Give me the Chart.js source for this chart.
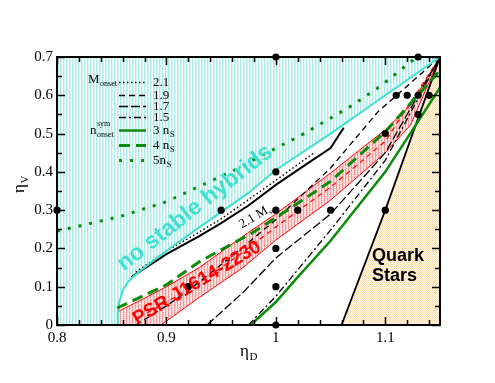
<!DOCTYPE html>
<html><head><meta charset="utf-8">
<script src="https://cdn.jsdelivr.net/npm/chart.js@4/dist/chart.umd.min.js"></script>
<style>html,body{margin:0;padding:0;background:#fff}canvas{display:block}</style>
</head><body>
<canvas id="c" width="495" height="383"></canvas>
<script>
// ---- axis ticks ----
const xTicks = [0.8, 0.9, 1.0, 1.1];
const yTicks = [0, 0.1, 0.2, 0.3, 0.4, 0.5, 0.6, 0.7];

// ---- boundaries / curves (eta_D, eta_V) ----
const cyanX = [0.855,0.8555,0.857,0.86,0.865,0.872,0.88,0.89,0.91,0.93,0.95,0.975,1.0,1.05,1.1,1.15];
const cyanY = [0,0.03,0.06,0.09,0.113,0.132,0.15,0.172,0.215,0.255,0.295,0.345,0.405,0.5,0.6,0.7];

const mmaxX = [0.868,0.88,0.9,0.93,0.95,0.975,1.0,1.031,1.05,1.062];
const mmaxY = [0.125,0.148,0.185,0.232,0.266,0.312,0.366,0.426,0.462,0.515];

const m21X = [0.872,0.9,0.93,0.95,1.0,1.035];
const m21Y = [0.138,0.193,0.243,0.277,0.378,0.45];

const m19X = [0.872,0.9,0.92,0.96,1.0,1.05,1.093,1.146];
const m19Y = [0,0.05,0.09,0.18,0.275,0.41,0.556,0.69];

const m17X = [0.937,0.97,1.0,1.05,1.1,1.15];
const m17Y = [0,0.085,0.175,0.29,0.45,0.7];

const m15X = [0.975,1.0,1.05,1.1,1.15];
const m15Y = [0,0.075,0.248,0.43,0.7];

const n3X = [0.977,1.0,1.02,1.05,1.1,1.15];
const n3Y = [0,0.06,0.125,0.22,0.4,0.62];

const n4X = [0.855,0.9,0.93,0.978,1.0,1.05,1.1,1.15];
const n4Y = [0.044,0.105,0.165,0.24,0.28,0.375,0.505,0.665];

const n5X = [0.8,0.857,0.9,0.936,0.959,0.988,1.026,1.07,1.097,1.123,1.13];
const n5Y = [0.245,0.283,0.322,0.37,0.40,0.444,0.5,0.574,0.627,0.687,0.7];

const psrUpX = [0.855,0.88,0.9,0.93,0.974,1.0,1.05,1.1,1.123,1.15];
const psrUpY = [0.034,0.07,0.1,0.15,0.24,0.29,0.397,0.51,0.574,0.7];
const psrLoX = [0.895,0.93,0.97,1.0,1.05,1.1,1.123,1.15];
const psrLoY = [0,0.072,0.15,0.222,0.326,0.45,0.522,0.7];
const psrMidX = [0.875,0.9,0.93,0.97,1.0,1.05,1.1,1.15];
const psrMidY = [0.02,0.06,0.11,0.19,0.256,0.36,0.48,0.7];

const quarkX = [1.06,1.1,1.15];
const quarkY = [0,0.3,0.7];

const dotX = [0.8,0.95,1.0,1.13,1.0,1.0,1.02,1.05,1.0,1.0,1.0,0.92,1.1,1.1,1.11,1.12,1.13,1.14,1.13];
const dotY = [0.3,0.3,0.7,0.7,0.4,0.3,0.3,0.3,0.2,0.1,0,0.1,0.3,0.5,0.6,0.6,0.6,0.6,0.55];

const X_MIN = 0.8, X_MAX = 1.15, Y_MIN = 0, Y_MAX = 0.7;

function pts(xs, ys){ return xs.map((x,i)=>({x:x, y:ys[i]})); }

// ---- patterns ----
function makePattern(w, h, drawFn){
  const c = document.createElement('canvas'); c.width = w; c.height = h;
  const g = c.getContext('2d'); drawFn(g);
  return document.getElementById('c').getContext('2d').createPattern(c, 'repeat');
}
const cyanPat = makePattern(3, 2, g => {
  g.fillStyle = '#ffffff'; g.fillRect(0,0,3,2);
  g.fillStyle = '#a9ecea'; g.fillRect(0,0,1,2);
  g.fillStyle = '#e0f8f7'; g.fillRect(1,0,1,2);
  g.fillStyle = '#c8f2f0'; g.fillRect(1,1,1,1);
});
const redPat = makePattern(3, 2, g => {
  g.fillStyle = '#ffe4e4'; g.fillRect(0,0,3,2);
  g.fillStyle = '#f79a9a'; g.fillRect(0,0,1,2);
  g.fillStyle = '#fbc4c4'; g.fillRect(1,0,1,1);
});
const quarkPat = makePattern(2, 2, g => {
  g.fillStyle = '#fff4e2'; g.fillRect(0,0,2,2);
  g.fillStyle = '#f7dba8'; g.fillRect(0,0,1,1);
  g.fillStyle = '#fbe8c8'; g.fillRect(1,1,1,1);
});

// polygons
const cyanPoly = pts([X_MIN].concat(cyanX, [X_MIN, X_MIN]), [Y_MIN].concat(cyanY, [Y_MAX, Y_MIN]));
const quarkPoly = pts(quarkX.concat([X_MAX, quarkX[0]]), quarkY.concat([Y_MIN, quarkY[0]]));
const psrPoly = pts(psrUpX.concat(psrLoX.slice().reverse(), [psrUpX[0], psrUpX[0]]),
                    psrUpY.concat(psrLoY.slice().reverse(), [Y_MIN, psrUpY[0]]));

function poly(data, pat){
  return {data, fill:'shape', backgroundColor: pat, borderWidth:0, borderColor:'rgba(0,0,0,0)',
          pointRadius:0, tension:0, order:20};
}
function line(data, color, width, dash, ord){
  return {data, fill:false, borderColor:color, borderWidth:width, borderDash:dash||[],
          pointRadius:0, tension:0, order:ord||10, borderCapStyle:'butt'};
}

const DASH = {
  m21:[1.5,2.5], m19:[6,4], m17:[9,3], m15:[7,3,2,3],
  n4:[11,6], n5:[3,8]
};

const datasets = [
  poly(cyanPoly, cyanPat),
  poly(quarkPoly, quarkPat),
  poly(psrPoly, redPat),
  line(pts(psrUpX, psrUpY), '#ff0000', 1, null, 12),
  line(pts(psrLoX, psrLoY), '#ff0000', 1, null, 12),
  line(pts(psrMidX, psrMidY), '#ff0000', 1.2, [5,4], 12),
  line(pts(cyanX, cyanY), '#40e0d0', 2, null, 10),
  line(pts(mmaxX, mmaxY), '#000000', 2, null, 10),
  line(pts(m21X, m21Y), '#000000', 1.5, DASH.m21, 10),
  line(pts(m19X, m19Y), '#000000', 1.3, DASH.m19, 10),
  line(pts(m17X, m17Y), '#000000', 1.3, DASH.m17, 10),
  line(pts(m15X, m15Y), '#000000', 1.3, DASH.m15, 10),
  line(pts(quarkX, quarkY), '#000000', 1.8, null, 10),
  line(pts(n3X, n3Y), '#0a8c0a', 2.5, null, 9),
  line(pts(n4X, n4Y), '#0a8c0a', 3, DASH.n4, 9),
  line(pts(n5X, n5Y), '#0a8c0a', 3, DASH.n5, 9),
  {data: pts(dotX, dotY), showLine:false, pointRadius:3.6, pointBackgroundColor:'#000',
   pointBorderWidth:0, borderColor:'#000', order:0, clip:false}
];

function sub(ctx, base, subTxt, x, y, fb, fs, supTxt){
  ctx.font = fb; ctx.fillText(base, x, y);
  const w = ctx.measureText(base).width;
  ctx.font = fs; ctx.fillText(subTxt, x + w + 0.5, y + 4);
  if (supTxt) ctx.fillText(supTxt, x + w + 0.5, y - 7);
}

const deco = {
  id:'deco',
  afterDraw(chart){
    const ctx = chart.ctx, a = chart.chartArea, xs = chart.scales.x, ys = chart.scales.y;
    ctx.save();
    ctx.strokeStyle = '#000'; ctx.lineWidth = 1.5;
    for (let i = 0; i <= 17; i++){
      const v = X_MIN + i*0.02; const px = Math.round(xs.getPixelForValue(v)) + 0.5;
      const major = Math.abs(v*10 - Math.round(v*10)) < 1e-6;
      const L = major ? 8 : 5;
      ctx.beginPath(); ctx.moveTo(px, a.bottom); ctx.lineTo(px, a.bottom - L);
      ctx.moveTo(px, a.top); ctx.lineTo(px, a.top + L); ctx.stroke();
    }
    for (let i = 0; i <= 14; i++){
      const v = Y_MIN + i*0.05; const py = Math.round(ys.getPixelForValue(v)) + 0.5;
      const L = (i % 2 === 0) ? 8 : 5;
      ctx.beginPath(); ctx.moveTo(a.left, py); ctx.lineTo(a.left + L, py);
      ctx.moveTo(a.right, py); ctx.lineTo(a.right - L, py); ctx.stroke();
    }
    ctx.lineWidth = 2;
    ctx.strokeRect(a.left, a.top, a.right - a.left, a.bottom - a.top);

    ctx.fillStyle = '#000'; ctx.textBaseline = 'alphabetic'; ctx.textAlign = 'left';
    sub(ctx, 'η', 'D', 240, 356, '17px "Liberation Serif"', '11px "Liberation Serif"');
    ctx.save(); ctx.translate(24, 193); ctx.rotate(-Math.PI/2);
    sub(ctx, 'η', 'V', 0, 0, '17px "Liberation Serif"', '11px "Liberation Serif"');
    ctx.restore();

    const lx0 = 119, lx1 = 146, tx = 153;
    const rows = [
      {y:82, col:'#000', w:1.5, dash:DASH.m21, t:'2.1'},
      {y:95, col:'#000', w:1.5, dash:DASH.m19, t:'1.9'},
      {y:106, col:'#000', w:1.5, dash:DASH.m17, t:'1.7'},
      {y:117, col:'#000', w:1.3, dash:DASH.m15, t:'1.5'},
      {y:130, col:'#0a8c0a', w:2.5, dash:[], t:'3 n', s:'S'},
      {y:145, col:'#0a8c0a', w:3, dash:DASH.n4, t:'4 n', s:'S'},
      {y:160, col:'#0a8c0a', w:3, dash:DASH.n5, t:'5n', s:'S'}
    ];
    ctx.textBaseline = 'middle';
    rows.forEach(r => {
      ctx.strokeStyle = r.col; ctx.lineWidth = r.w; ctx.setLineDash(r.dash);
      ctx.beginPath(); ctx.moveTo(lx0, r.y + 0.5); ctx.lineTo(lx1, r.y + 0.5); ctx.stroke();
      ctx.setLineDash([]);
      ctx.fillStyle = '#000';
      if (r.s) sub(ctx, r.t, r.s, tx, r.y + 1, '13px "Liberation Serif"', '9px "Liberation Serif"');
      else { ctx.font = '13px "Liberation Serif"'; ctx.fillText(r.t, tx, r.y + 1); }
    });
    sub(ctx, 'M', 'onset', 88, 80, '13px "Liberation Serif"', '8px "Liberation Serif"');
    sub(ctx, 'n', 'onset', 90, 131, '13px "Liberation Serif"', '8px "Liberation Serif"', 'sym');

    ctx.textAlign = 'center'; ctx.textBaseline = 'middle';
    ctx.save(); ctx.translate(195, 208); ctx.rotate(-38*Math.PI/180);
    ctx.fillStyle = '#40e0d0'; ctx.font = 'bold 23px "Liberation Sans"';
    ctx.fillText('no stable hybrids', 0, 0); ctx.restore();

    ctx.save(); ctx.translate(197, 283); ctx.rotate(-31*Math.PI/180);
    ctx.fillStyle = '#ff0000'; ctx.font = 'bold 19px "Liberation Sans"';
    ctx.fillText('PSR J1614-2230', 0, 0); ctx.restore();

    ctx.save(); ctx.translate(252, 214); ctx.rotate(-31*Math.PI/180);
    ctx.fillStyle = '#000'; ctx.textAlign = 'left';
    sub(ctx, '2.1 M', 'sun', -16, 4, '13px "Liberation Serif"', '7px "Liberation Serif"');
    ctx.restore();

    ctx.fillStyle = '#000'; ctx.font = 'bold 18px "Liberation Sans"'; ctx.textAlign = 'left';
    ctx.fillText('Quark', 372, 256);
    ctx.fillText('Stars', 372, 276);
    ctx.restore();
  }
};

new Chart(document.getElementById('c'), {
  type:'line',
  data:{datasets},
  options:{
    responsive:false, animation:false, devicePixelRatio:1,
    layout:{padding:{left:0, top:57, right:55, bottom:0}},
    plugins:{legend:{display:false}, tooltip:{enabled:false}},
    elements:{line:{tension:0}},
    scales:{
      x:{type:'linear', min:X_MIN, max:X_MAX,
         grid:{display:false, drawTicks:false}, border:{display:false},
         afterBuildTicks: s => { s.ticks = xTicks.map(v=>({value:v})); },
         afterFit: s => { s.height = 58; },
         ticks:{padding:4, color:'#000', font:{family:'"Liberation Serif"', size:15},
                maxRotation:0, autoSkip:false, callback: v => String(Math.round(v*10)/10)}},
      y:{type:'linear', min:Y_MIN, max:Y_MAX,
         grid:{display:false, drawTicks:false}, border:{display:false},
         afterBuildTicks: s => { s.ticks = yTicks.map(v=>({value:v})); },
         afterFit: s => { s.width = 57; },
         ticks:{padding:4, color:'#000', font:{family:'"Liberation Serif"', size:15},
                autoSkip:false, callback: v => String(Math.round(v*10)/10)}}
    }
  },
  plugins:[deco]
});
</script>
</body></html>
